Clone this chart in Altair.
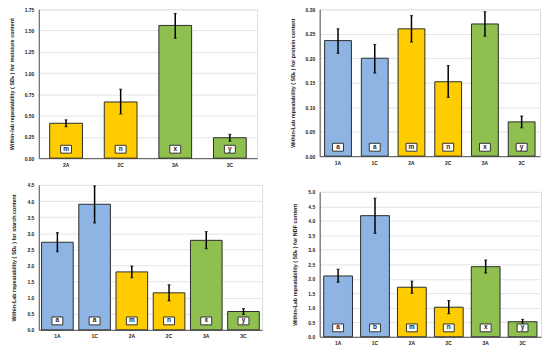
import altair as alt
import pandas as pd

# ---- data ----
cats_m = ["2A", "2C", "3A", "3C"]
grp_m = ["2", "2", "3", "3"]
moist = [0.41, 0.66, 1.56, 0.24]
moist_lo = [0.37, 0.52, 1.41, 0.20]
moist_hi = [0.45, 0.81, 1.70, 0.28]
let_m = ["m", "n", "x", "y"]

cats6 = ["1A", "1C", "2A", "2C", "3A", "3C"]
grp6 = ["1", "1", "2", "2", "3", "3"]

prot = [0.236, 0.200, 0.260, 0.152, 0.270, 0.070]
prot_lo = [0.210, 0.170, 0.233, 0.120, 0.245, 0.058]
prot_hi = [0.260, 0.228, 0.287, 0.185, 0.295, 0.082]
let_p = ["a", "a", "m", "n", "x", "y"]

starch = [2.72, 3.90, 1.80, 1.15, 2.78, 0.57]
starch_lo = [2.43, 3.32, 1.62, 0.90, 2.52, 0.48]
starch_hi = [3.02, 4.47, 1.98, 1.40, 3.05, 0.66]
let_s = ["a", "a", "m", "n", "x", "y"]

ndf = [2.10, 4.18, 1.71, 1.02, 2.42, 0.52]
ndf_lo = [1.88, 3.57, 1.50, 0.80, 2.20, 0.45]
ndf_hi = [2.33, 4.78, 1.92, 1.25, 2.65, 0.60]
let_n = ["a", "b", "m", "n", "x", "y"]

ticks_m = [0.0, 0.25, 0.5, 0.75, 1.0, 1.25, 1.5, 1.75]
ticks_p = [0.0, 0.05, 0.10, 0.15, 0.20, 0.25, 0.30]
ticks_s = [0.0, 0.5, 1.0, 1.5, 2.0, 2.5, 3.0, 3.5, 4.0, 4.5]
ticks_n = [0.0, 0.5, 1.0, 1.5, 2.0, 2.5, 3.0, 3.5, 4.0, 4.5, 5.0]

group_domain = ["1", "2", "3"]
group_colors = ["#8DB4E2", "#FFCC00", "#8FBF4F"]

FONT = "Liberation Sans"


def panel(cats, groups, vals, lo, hi, letters, title, ticks, fmt, w, h, pad):
    df = pd.DataFrame({"cat": cats, "grp": groups, "val": vals,
                       "lo": lo, "hi": hi, "let": letters})
    xaxis = alt.Axis(labelAngle=0, labelFont=FONT, labelFontSize=5,
                     labelFontWeight="bold", labelColor="#222",
                     ticks=False, labelPadding=4, domainColor="#555",
                     labelOverlap=False)
    xscale = alt.Scale(paddingInner=pad, paddingOuter=pad / 2)
    xs = alt.X("cat:N", sort=cats, title=None, scale=xscale, axis=xaxis)
    yscale = alt.Scale(domain=[ticks[0], ticks[-1]], nice=False)
    yaxis = alt.Axis(values=ticks, format=fmt, labelFont=FONT,
                     labelFontSize=5, labelFontWeight="bold",
                     labelColor="#222", ticks=False, labelPadding=5,
                     labelOverlap=False, labelFlush=False,
                     titleFont=FONT, titleFontSize=5.5,
                     titleFontWeight="bold", titleColor="#222",
                     titlePadding=10, gridColor="#E4E4E4",
                     domainColor="#555")

    def Y(field):
        return alt.Y(field, scale=yscale, title=title, axis=yaxis)

    base = alt.Chart(df)
    bars = base.mark_bar(stroke="#2b2b2b", strokeWidth=1).encode(
        x=xs, y=Y("val:Q"),
        color=alt.Color("grp:N", scale=alt.Scale(domain=group_domain,
                                                 range=group_colors),
                        legend=None),
    )
    err = base.mark_rule(color="black", strokeWidth=1.5).encode(
        x=xs, y=Y("lo:Q"), y2="hi:Q")
    caps_lo = base.mark_tick(color="black", size=3, thickness=1.2).encode(
        x=xs, y=Y("lo:Q"))
    caps_hi = base.mark_tick(color="black", size=3, thickness=1.2).encode(
        x=xs, y=Y("hi:Q"))
    box = base.mark_point(shape="M-1,-0.72L1,-0.72L1,0.72L-1,0.72Z",
                          size=121, filled=True, fill="white", stroke="#333",
                          strokeWidth=1, opacity=1).encode(
        x=xs, y=alt.value(h - 9))
    txt = base.mark_text(font=FONT, fontSize=6.5, fontWeight="bold",
                         color="#222", baseline="middle").encode(
        x=xs, y=alt.value(h - 9.5), text="let:N")
    return alt.layer(bars, err, caps_lo, caps_hi, box, txt).properties(
        width=w, height=h)


tl = panel(cats_m, grp_m, moist, moist_lo, moist_hi, let_m,
           "Within-lab repeatability ( SDᵢᵣ ) for moisture content",
           ticks_m, ".2f", 220, 150, 0.4)
tr = panel(cats6, grp6, prot, prot_lo, prot_hi, let_p,
           "Within-Lab repeatability ( SDᵢᵣ ) for protein content",
           ticks_p, ".2f", 222, 148, 0.27)
bl = panel(cats6, grp6, starch, starch_lo, starch_hi, let_s,
           "Within-Lab repeatability ( SDᵢᵣ ) for starch content",
           ticks_s, ".1f", 225, 146, 0.15)
br = panel(cats6, grp6, ndf, ndf_lo, ndf_hi, let_n,
           "Within-Lab repeatability ( SDᵢᵣ ) for NDF content",
           ticks_n, ".1f", 223, 146, 0.22)

left = alt.vconcat(tl, bl, spacing=14)
right = alt.vconcat(tr, br, spacing=23)

chart = alt.hconcat(left, right, spacing=26).properties(
    padding={"left": 0, "top": -3, "right": 0, "bottom": 0}
).configure_view(stroke="#8a8a8a", strokeWidth=1).configure(
    background="white")

chart.save("out.html", embed_options={"renderer": "svg", "actions": False})
